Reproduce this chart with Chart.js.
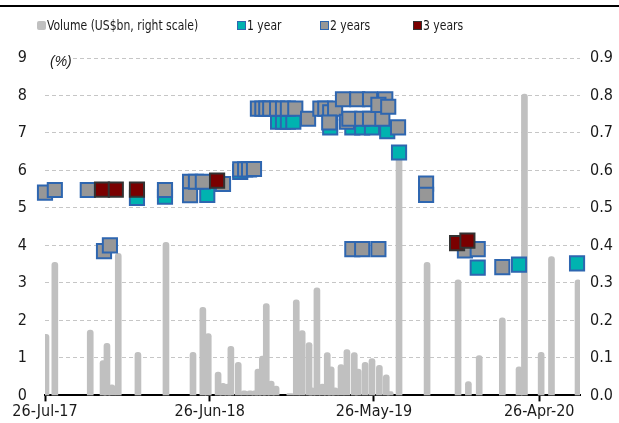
<!DOCTYPE html>
<html>
<head>
<meta charset="utf-8">
<script src="https://cdn.jsdelivr.net/npm/chart.js@4.4.1/dist/chart.umd.min.js"></script>
<style>
  html, body { margin: 0; padding: 0; background: #fff; }
  #wrap { position: relative; width: 619px; height: 423px; }
  #legend { position: absolute; top: 16px; left: 0; width: 619px; height: 18px;
    font: 14px 'Liberation Sans Narrow', 'Arial Narrow', 'DejaVu Sans Condensed', sans-serif; color: #1a1a1a; }
  .item { position: absolute; top: 0; height: 18px; display: flex; align-items: center; white-space: nowrap; }
  .box { width: 9px; height: 9px; box-sizing: border-box; margin-right: 1px; }
  .txt { display: inline-block; transform: scaleX(0.86); transform-origin: left center; }
</style>
</head>
<body>
<div id="wrap">
  <canvas id="chart" width="619" height="423"></canvas>
  <div id="legend"></div>
</div>
<script>
// 出来高 (右軸, US$bn)
const volDates = ['2017-07-28','2017-08-15','2017-10-26','2017-11-21','2017-11-29','2017-12-09','2017-12-22','2018-01-31',
  '2018-03-29','2018-05-23','2018-06-12','2018-06-23','2018-07-13','2018-07-23','2018-08-02','2018-08-08','2018-08-23',
  '2018-09-04','2018-09-16','2018-09-26','2018-10-02','2018-10-11','2018-10-19','2018-10-29','2018-11-08','2018-12-06',
  '2018-12-19','2018-12-31','2019-01-14','2019-01-20','2019-01-30','2019-02-10','2019-02-20','2019-02-28','2019-03-08',
  '2019-03-20','2019-04-01','2019-04-16','2019-04-24','2019-05-08','2019-05-22','2019-06-06','2019-06-20','2019-06-28',
  '2019-07-16','2019-09-11','2019-11-13','2019-12-04','2019-12-26','2020-02-11','2020-03-16','2020-03-27','2020-04-30',
  '2020-05-21','2020-07-14'];
const volValues = [0.163,0.355,0.174,0.093,0.139,0.028,0.379,0.115,
  0.408,0.115,0.235,0.165,0.062,0.032,0.03,0.131,0.088,
  0.012,0.012,0.012,0.07,0.105,0.245,0.038,0.025,0.005,
  0.255,0.173,0.141,0.02,0.287,0.03,0.114,0.076,0.02,
  0.082,0.122,0.114,0.07,0.088,0.098,0.08,0.055,0.01,
  0.64,0.355,0.308,0.037,0.106,0.207,0.076,0.804,0.115,
  0.37,0.308];

// 1年
const oneYearDates = ['2018-01-29','2018-03-27','2018-06-21','2018-08-27','2018-11-12','2018-11-22','2018-12-02','2018-12-13',
  '2019-02-26','2019-04-12','2019-05-02','2019-05-22','2019-06-22','2019-07-16','2019-12-23','2020-03-16','2020-07-12'];
const oneYearRates = [5.27,5.3,5.35,5.96,7.3,7.3,7.3,7.3,
  7.15,7.15,7.15,7.15,7.05,6.48,3.41,3.49,3.52];

// 2年
const twoYearDates = ['2017-07-26','2017-08-15','2017-10-21','2017-11-23','2017-12-05','2018-03-27','2018-05-17','2018-05-17',
  '2018-05-29','2018-06-12','2018-07-23','2018-08-27','2018-09-06','2018-09-14','2018-09-24','2018-10-02','2018-10-11',
  '2018-10-19','2018-10-27','2018-11-10','2018-11-22','2018-12-02','2018-12-17','2019-01-12','2019-02-06','2019-02-16',
  '2019-02-26','2019-03-08','2019-02-24','2019-03-24','2019-04-01','2019-04-06','2019-04-22','2019-05-02','2019-05-18',
  '2019-05-18','2019-06-12','2019-06-18','2019-06-04','2019-06-24','2019-07-14','2019-04-12','2019-05-02','2019-06-04',
  '2019-09-09','2019-09-09','2019-11-27','2019-12-23','2020-02-11'];
const twoYearRates = [5.41,5.48,5.48,3.85,4.0,5.48,5.7,5.34,
  5.7,5.7,5.64,6.03,6.03,6.03,6.04,7.65,7.65,
  7.65,7.65,7.65,7.65,7.65,7.65,7.38,7.65,7.65,
  7.55,7.65,7.28,7.9,7.3,7.38,7.9,7.38,7.9,
  7.38,7.38,7.9,7.75,7.7,7.15,3.9,3.9,3.9,
  5.65,5.35,3.87,3.9,3.42];

// 3年
const threeYearDates = ['2017-11-19','2017-12-17','2018-01-29','2018-07-11','2019-11-11','2019-12-02'];
const threeYearRates = [5.49,5.49,5.49,5.73,4.06,4.13];

// 軸ラベル
const tickDates = ['2017-07-26','2018-06-26','2019-05-26','2020-04-26'];
const tickLabels = ['26-Jul-17','26-Jun-18','26-May-19','26-Apr-20'];
const lastDate = '2020-07-18';

const startMs = Date.parse(tickDates[0]);
function dayOf(d) { return (Date.parse(d) - startMs) / 86400000; }
function points(dates, vals) { return dates.map((d, i) => ({x: dayOf(d), y: vals[i]})); }
const tickDays = tickDates.map(dayOf);

const font = {family: "'Liberation Sans Narrow', 'Arial Narrow', 'DejaVu Sans Condensed', sans-serif", size: 16};
const textColor = '#1a1a1a';
const blue = '#2e66b0';

// 枠線と(%)の描画
const extras = {
  id: 'extras',
  beforeDraw(chart) {
    const c = chart.ctx;
    c.save();
    c.fillStyle = '#fff';
    c.fillRect(0, 0, chart.width, chart.height);
    c.fillStyle = '#000';
    c.fillRect(0, 5, chart.width, 2);
    c.restore();
  },
  beforeDatasetsDraw(chart) {
    const c = chart.ctx;
    const a = chart.chartArea;
    c.save();
    c.fillStyle = '#fff';
    c.fillRect(a.left, a.top - 8, 26, 16);
    c.fillStyle = textColor;
    c.font = "italic 14px 'Liberation Sans Narrow', 'Arial Narrow', sans-serif";
    c.textBaseline = 'middle';
    c.fillText('(%)', a.left + 5, a.top + 4);
    c.restore();
  }
};

const chart = new Chart(document.getElementById('chart'), {
  type: 'scatter',
  data: {
    datasets: [
      {type: 'bar', label: 'Volume (US$bn, right scale)', data: points(volDates, volValues), yAxisID: 'y2',
        backgroundColor: '#c0c0c0', barThickness: 6, borderRadius: 3, order: 4},
      {type: 'scatter', label: '1 year', data: points(oneYearDates, oneYearRates), yAxisID: 'y',
        pointStyle: 'rect', pointRadius: 10, backgroundColor: '#00b3b0', borderColor: blue, borderWidth: 2, clip: false, order: 3},
      {type: 'scatter', label: '2 years', data: points(twoYearDates, twoYearRates), yAxisID: 'y',
        pointStyle: 'rect', pointRadius: 10, backgroundColor: '#979797', borderColor: blue, borderWidth: 2, clip: false, order: 2},
      {type: 'scatter', label: '3 years', data: points(threeYearDates, threeYearRates), yAxisID: 'y',
        pointStyle: 'rect', pointRadius: 10, backgroundColor: '#7a0000', borderColor: '#333333', borderWidth: 2, clip: false, order: 1}
    ]
  },
  options: {
    responsive: false,
    animation: false,
    events: [],
    layout: {padding: {top: 58, bottom: 0, left: 0, right: 0}},
    plugins: {legend: {display: false}, tooltip: {enabled: false}},
    scales: {
      x: {
        type: 'linear', min: 0, max: dayOf(lastDate), offset: false,
        afterBuildTicks: s => { s.ticks = tickDays.map(v => ({value: v})); },
        afterFit: s => { s.height = 27; },
        ticks: {autoSkip: false, maxRotation: 0, padding: 1, font: font, color: textColor,
          callback: v => tickLabels[tickDays.indexOf(v)]},
        grid: {offset: false, drawOnChartArea: false, drawTicks: true, tickLength: 6, tickWidth: 2, tickColor: '#000'},
        border: {display: true, color: '#000', width: 2}
      },
      y: {
        position: 'left', min: 0, max: 9,
        afterFit: s => { s.width = 45; },
        ticks: {stepSize: 1, padding: 18, font: font, color: textColor},
        grid: {drawTicks: false, lineWidth: 1, color: ctx => ctx.tick.value === 0 ? 'rgba(0,0,0,0)' : '#c6c6c6'},
        border: {display: false, dash: [4, 3]}
      },
      y2: {
        position: 'right', min: 0, max: 0.9,
        afterFit: s => { s.width = 39; },
        ticks: {stepSize: 0.1, padding: 10, font: font, color: textColor, callback: v => v.toFixed(1)},
        grid: {display: false, drawTicks: false},
        border: {display: false}
      }
    }
  },
  plugins: [extras]
});

// 凡例 (HTML)
const legendLeft = [37, 237, 320, 413];
const legendEl = document.getElementById('legend');
chart.data.datasets.forEach((ds, i) => {
  const item = document.createElement('div');
  item.className = 'item';
  item.style.left = legendLeft[i] + 'px';
  const box = document.createElement('span');
  box.className = 'box';
  box.style.background = ds.backgroundColor;
  if (ds.type === 'bar') {
    box.style.borderRadius = '2px';
  } else {
    box.style.border = '1.5px solid ' + ds.borderColor;
  }
  const txt = document.createElement('span');
  txt.className = 'txt';
  txt.textContent = ds.label;
  item.appendChild(box);
  item.appendChild(txt);
  legendEl.appendChild(item);
});
</script>
</body>
</html>
